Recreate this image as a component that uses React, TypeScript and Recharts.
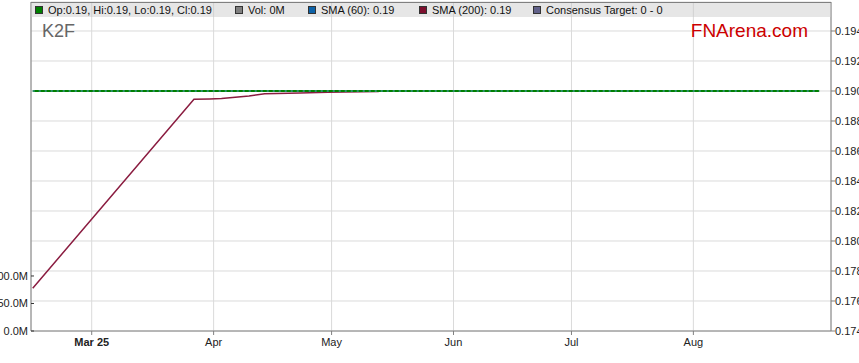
import React from 'react';
import { ComposedChart, Line, XAxis, YAxis, CartesianGrid } from 'recharts';

// ---------- data ----------
const BASE = Date.UTC(2025, 2, 1);
const day = (s: string) => Math.round((Date.parse(s + 'T00:00:00Z') - BASE) / 86400000);

const closeDates = ['2025-02-14', '2025-09-02'];
const closeValues = [0.19, 0.19];

const sma60Dates = ['2025-02-14', '2025-09-02'];
const sma60Values = [0.19, 0.19];

const sma200Dates = [
  '2025-02-14', '2025-03-27', '2025-03-31', '2025-04-03', '2025-04-10',
  '2025-04-14', '2025-04-23', '2025-04-30', '2025-05-13',
];
const sma200Values = [0.17685, 0.18945, 0.18947, 0.1895, 0.18967, 0.18981, 0.18987, 0.18991, 0.18996];

const priceTicks = [0.174, 0.176, 0.178, 0.18, 0.182, 0.184, 0.186, 0.188, 0.19, 0.192, 0.194];
const volumeTicks = [0, 50e6, 100e6];
const volumeLabels = ['0.0M', '50.0M', '100.0M'];
const monthTickDates = ['2025-03-01', '2025-04-01', '2025-05-01', '2025-06-01', '2025-07-01', '2025-08-01'];
const monthTickLabels = ['Mar 25', 'Apr', 'May', 'Jun', 'Jul', 'Aug'];

const legendItems = [
  { label: 'Op:0.19, Hi:0.19, Lo:0.19, Cl:0.19', color: '#008000', left: 35 },
  { label: 'Vol: 0M', color: '#808080', left: 235 },
  { label: 'SMA (60): 0.19', color: '#0d62a8', left: 308 },
  { label: 'SMA (200): 0.19', color: '#7d0f2e', left: 419 },
  { label: 'Consensus Target: 0 - 0', color: '#62628a', left: 533 },
];

const mk = (dates: string[], vals: number[]) => dates.map((d, i) => ({ t: day(d), v: vals[i] }));
const closeData = mk(closeDates, closeValues);
const sma60Data = mk(sma60Dates, sma60Values);
const sma200Data = mk(sma200Dates, sma200Values);
const monthTicks = monthTickDates.map(day);

const FONT = '"Liberation Sans", Arial, sans-serif';

const XTick = (props: any) => {
  const { x, y, payload } = props;
  const idx = monthTicks.indexOf(payload.value);
  return (
    <g>
      <line x1={x} x2={x} y1={y} y2={y + 4} stroke="#808080" />
      <text x={x} y={y + 15} textAnchor="middle" fontSize={11} fontFamily={FONT}
        fill="#222" fontWeight={idx === 0 ? 'bold' : 'normal'}>
        {monthTickLabels[idx]}
      </text>
    </g>
  );
};

const RightTick = (props: any) => {
  const { x, y, payload } = props;
  return (
    <g>
      <line x1={x} x2={x + 4} y1={y} y2={y} stroke="#808080" />
      <text x={x + 4} y={y + 4} textAnchor="start" fontSize={11} fontFamily={FONT} fill="#222">
        {payload.value.toFixed(3)}
      </text>
    </g>
  );
};

const LeftTick = (props: any) => {
  const { x, y, payload } = props;
  const idx = volumeTicks.indexOf(payload.value);
  return (
    <g>
      <line x1={x} x2={x + 3} y1={y} y2={y} stroke="#333" />
      <text x={x - 3} y={y + 4} textAnchor="end" fontSize={11} fontFamily={FONT} fill="#222">
        {volumeLabels[idx]}
      </text>
    </g>
  );
};

export default function App() {
  return (
    <div style={{ position: 'absolute', left: 0, top: 0, width: 859, height: 363, background: '#fff' }}>
      <ComposedChart width={859} height={363} margin={{ top: 2, right: 0, bottom: 0, left: 0 }}>
        <CartesianGrid stroke="#dadada" xAxisId="x" yAxisId="price" />
        <XAxis xAxisId="x" dataKey="t" type="number" domain={[-15.44, 188]} allowDataOverflow
          ticks={monthTicks} tick={<XTick />} tickLine={false} height={32}
          tickSize={0} tickMargin={0}
          axisLine={{ stroke: '#808080' }} interval={0} />
        <YAxis yAxisId="price" orientation="right" type="number" domain={[0.174, 0.195933]}
          allowDataOverflow ticks={priceTicks} tick={<RightTick />} tickLine={false}
          width={28} tickSize={0} tickMargin={0} axisLine={{ stroke: '#808080' }} interval={0} />
        <YAxis yAxisId="vol" orientation="left" type="number" domain={[0, 598e6]}
          allowDataOverflow ticks={volumeTicks} tick={<LeftTick />} tickLine={false}
          width={31} tickSize={0} tickMargin={0} axisLine={{ stroke: '#808080' }} interval={0} />
        <Line xAxisId="x" yAxisId="price" data={sma200Data} dataKey="v" stroke="#8a1c40"
          strokeWidth={1.5} dot={false} isAnimationActive={false} />
        <Line xAxisId="x" yAxisId="price" data={closeData} dataKey="v" stroke="#008000"
          strokeWidth={2} dot={false} isAnimationActive={false} />
        <Line xAxisId="x" yAxisId="price" data={sma60Data} dataKey="v" stroke="#5aa0e0"
          strokeWidth={1} strokeDasharray="2 4" dot={false} isAnimationActive={false} />
      </ComposedChart>
      <div style={{ position: 'absolute', left: 31, top: 2, width: 800, height: 15,
        background: 'rgba(200,200,200,0.45)', borderTop: '1px solid #808080', boxSizing: 'border-box' }} />
      {legendItems.map((it) => (
        <div key={it.label} style={{ position: 'absolute', left: it.left, top: 3, height: 14,
          display: 'flex', alignItems: 'center', fontFamily: FONT, fontSize: 11, color: '#111', whiteSpace: 'nowrap' }}>
          <span style={{ display: 'inline-block', width: 6, height: 6, background: it.color,
            border: '1px solid #333', marginRight: 5 }} />
          {it.label}
        </div>
      ))}
      <div style={{ position: 'absolute', left: 42, top: 21, fontFamily: FONT, fontSize: 18, color: '#666' }}>K2F</div>
      <div style={{ position: 'absolute', right: 859 - 808, top: 20, fontFamily: FONT, fontSize: 19, color: '#cc0000' }}>FNArena.com</div>
    </div>
  );
}
